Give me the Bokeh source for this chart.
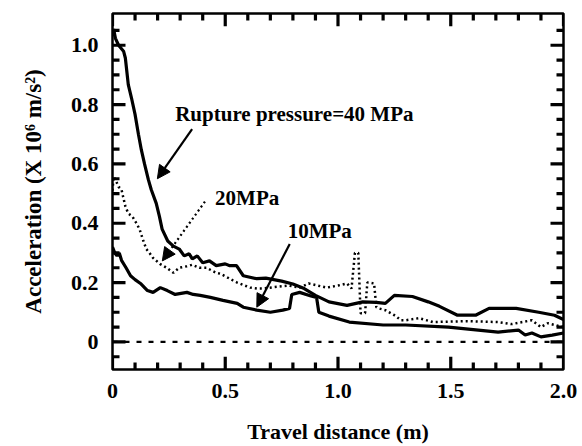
from bokeh.plotting import figure
from bokeh.models import (Range1d, LinearAxis, SingleIntervalTicker, NumeralTickFormatter,
                          Label, Arrow, NormalHead)
from bokeh.embed import file_html
from bokeh.resources import INLINE

# ---- data ----
x40 = [0.0, 0.005, 0.013, 0.027, 0.049, 0.057, 0.07, 0.084, 0.10, 0.115, 0.128, 0.142, 0.159,
       0.172, 0.194, 0.208, 0.22, 0.245, 0.27, 0.296, 0.318, 0.34, 0.354, 0.376, 0.40, 0.43,
       0.46, 0.50, 0.52, 0.55, 0.58, 0.64, 0.68, 0.75, 0.80, 0.85, 0.90, 0.96, 1.04, 1.11,
       1.17, 1.21, 1.25, 1.33, 1.40, 1.45, 1.53, 1.61, 1.67, 1.79, 1.89, 1.96, 2.0]
y40 = [1.03, 1.055, 1.023, 1.0, 0.98, 0.957, 0.867, 0.823, 0.767, 0.70, 0.647, 0.60, 0.547,
       0.513, 0.467, 0.423, 0.38, 0.34, 0.323, 0.313, 0.29, 0.297, 0.28, 0.29, 0.267, 0.273,
       0.257, 0.263, 0.257, 0.257, 0.223, 0.213, 0.215, 0.205, 0.195, 0.18, 0.157, 0.135,
       0.123, 0.135, 0.133, 0.13, 0.157, 0.153, 0.135, 0.12, 0.09, 0.09, 0.113, 0.113, 0.10,
       0.09, 0.075]

x20 = [0.0, 0.005, 0.013, 0.027, 0.04, 0.057, 0.07, 0.088, 0.106, 0.12, 0.137, 0.15, 0.164,
       0.18, 0.21, 0.24, 0.27, 0.296, 0.33, 0.354, 0.385, 0.416, 0.46, 0.478, 0.535, 0.553,
       0.61, 0.64, 0.67, 0.72, 0.78, 0.83, 0.87, 0.95, 1.0, 1.04, 1.06, 1.075, 1.09, 1.10,
       1.12, 1.13, 1.14, 1.16, 1.17, 1.18, 1.21, 1.25, 1.28, 1.30, 1.36, 1.42, 1.57, 1.71,
       1.77, 1.86, 1.90, 1.93, 2.0]
y20 = [0.51, 0.557, 0.547, 0.523, 0.513, 0.457, 0.433, 0.423, 0.40, 0.38, 0.34, 0.313, 0.30,
       0.283, 0.263, 0.25, 0.233, 0.25, 0.255, 0.26, 0.25, 0.25, 0.233, 0.23, 0.207, 0.20,
       0.183, 0.18, 0.18, 0.185, 0.19, 0.183, 0.197, 0.183, 0.19, 0.197, 0.18, 0.30, 0.30,
       0.097, 0.097, 0.20, 0.20, 0.197, 0.117, 0.113, 0.107, 0.09, 0.073, 0.073, 0.08, 0.067,
       0.07, 0.067, 0.06, 0.073, 0.05, 0.063, 0.05]

x10 = [0.0, 0.01, 0.02, 0.03, 0.04, 0.06, 0.08, 0.10, 0.124, 0.155, 0.18, 0.212, 0.243, 0.278,
       0.33, 0.358, 0.389, 0.434, 0.49, 0.553, 0.58, 0.64, 0.70, 0.755, 0.785, 0.795, 0.83,
       0.88, 0.905, 0.915, 0.96, 1.05, 1.20, 1.30, 1.49, 1.71, 1.80, 1.83, 1.86, 1.90, 1.95,
       2.0]
y10 = [0.32, 0.30, 0.29, 0.30, 0.275, 0.25, 0.223, 0.21, 0.197, 0.173, 0.167, 0.183, 0.173,
       0.16, 0.167, 0.16, 0.157, 0.15, 0.14, 0.13, 0.117, 0.107, 0.10, 0.107, 0.113, 0.16,
       0.167, 0.155, 0.15, 0.10, 0.087, 0.067, 0.057, 0.057, 0.05, 0.033, 0.04, 0.023, 0.03,
       0.017, 0.023, 0.03]

x_major = [0.0, 0.5, 1.0, 1.5, 2.0]
x_minor = [0.1, 0.2, 0.3, 0.4, 0.6, 0.7, 0.8, 0.9, 1.1, 1.2, 1.3, 1.4, 1.6, 1.7, 1.8, 1.9]
y_major = [0.0, 0.2, 0.4, 0.6, 0.8, 1.0]
y_minor = [-0.05, 0.05, 0.1, 0.15, 0.25, 0.3, 0.35, 0.45, 0.5, 0.55, 0.65, 0.7, 0.75,
           0.85, 0.9, 0.95, 1.05]
x_label = "Travel distance (m)"
y_label = "Acceleration (X 10\u2076 m/s\u00b2)"
label40 = "Rupture pressure=40 MPa"
label20 = "20MPa"
label10 = "10MPa"

FONT = "Liberation Serif"
X0, X1 = 0.0, 2.0
Y0, Y1 = -0.093, 1.107
FW, FH = 451, 362   # frame size in px

p = figure(width=582, height=446, output_backend="svg", toolbar_location=None,
           x_range=Range1d(X0, X1), y_range=Range1d(Y0, Y1),
           min_border_left=112, min_border_right=19, min_border_top=13,
           min_border_bottom=71, x_axis_location=None, y_axis_location=None)
p.grid.visible = False
p.outline_line_color = "black"
p.outline_line_width = 2.5
p.background_fill_color = "white"
p.border_fill_color = "white"

def mk_axis(step):
    ax = LinearAxis(ticker=SingleIntervalTicker(interval=step, num_minor_ticks=0))
    ax.major_tick_in = 0
    ax.major_tick_out = 0
    ax.minor_tick_in = 0
    ax.minor_tick_out = 0
    ax.axis_line_color = None
    ax.major_label_text_font = FONT
    ax.major_label_text_font_style = "bold"
    ax.major_label_text_font_size = "22px"
    ax.major_label_text_color = "black"
    ax.axis_label_text_font = FONT
    ax.axis_label_text_font_style = "bold"
    ax.axis_label_text_font_size = "22px"
    ax.axis_label_text_color = "black"
    ax.formatter = NumeralTickFormatter(format="0.0")
    ax.major_label_overrides = {0: "0"}
    return ax

xb = mk_axis(0.5)
xb.major_label_standoff = 14
xb.axis_label = x_label
xb.axis_label_standoff = 18
p.add_layout(xb, "below")

yl = mk_axis(0.2)
yl.major_label_standoff = 14
yl.major_label_orientation = "horizontal"
yl.axis_label = y_label
yl.axis_label_standoff = 22
yl.axis_label_text_font_size = "23px"
p.add_layout(yl, "left")

# inward ticks on all four sides, as plain line glyphs
px_x = (X1 - X0) / FW
px_y = (Y1 - Y0) / FH
MAJ, MIN = 13, 7

txs, tys = [], []
for vals, L in ((x_major, MAJ), (x_minor, MIN)):
    for v in vals:
        txs.append([float(v), float(v)]); tys.append([Y0, Y0 + L * px_y])
        txs.append([float(v), float(v)]); tys.append([Y1, Y1 - L * px_y])
for vals, L in ((y_major, MAJ), (y_minor, MIN)):
    for v in vals:
        txs.append([X0, X0 + L * px_x]); tys.append([float(v), float(v)])
        txs.append([X1, X1 - L * px_x]); tys.append([float(v), float(v)])
p.multi_line(xs=txs, ys=tys, line_color="black", line_width=3.2)

# zero line
p.line([X0, X1], [0, 0], line_color="black", line_width=2.2, line_dash="5 7")

p.line(x40, y40, line_color="black", line_width=3.2)
p.line(x10, y10, line_color="black", line_width=3.2)
p.line(x20, y20, line_color="black", line_width=2.5, line_dash="2 3")

def lab(x, y, t):
    p.add_layout(Label(x=x, y=y, text=t, text_font=FONT, text_font_style="bold",
                       text_font_size="21px", text_color="black", text_baseline="middle",
                       text_align="left"))

lab(0.278, 0.767, label40)
lab(0.455, 0.485, label20)
lab(0.777, 0.373, label10)

def arr(x0, y0, x1, y1, dash="solid"):
    p.add_layout(Arrow(end=NormalHead(size=13, fill_color="black", line_color="black"),
                       x_start=x0, y_start=y0, x_end=x1, y_end=y1,
                       line_color="black", line_width=2.2, line_dash=dash))

arr(0.353, 0.717, 0.199, 0.55)
arr(0.41, 0.473, 0.221, 0.273, "2 3")
arr(0.786, 0.33, 0.64, 0.117)

open("out.html", "w").write(file_html(p, INLINE))
